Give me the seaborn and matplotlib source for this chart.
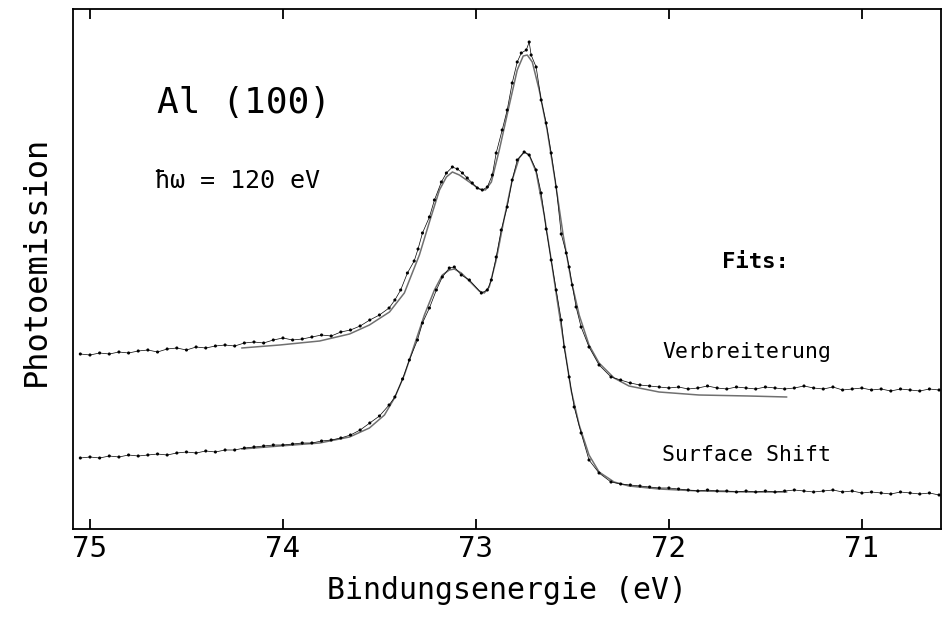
import matplotlib
matplotlib.use("Agg")
import matplotlib.pyplot as plt
import numpy as np
import pandas as pd
import seaborn as sns

# ---------------- data ----------------
# upper spectrum (measured points), binding energy in eV, intensity arb. units
upper_x = [75.05, 75.00, 74.95, 74.90, 74.85, 74.80, 74.75, 74.70, 74.65, 74.60,
           74.55, 74.50, 74.45, 74.40, 74.35, 74.30, 74.25, 74.20, 74.15, 74.10,
           74.05, 74.00, 73.95, 73.90, 73.85, 73.80, 73.75, 73.70, 73.65, 73.60,
           73.55, 73.50,
           73.45, 73.42, 73.39, 73.355, 73.32, 73.30, 73.277, 73.241, 73.215, 73.179,
           73.153, 73.122, 73.096, 73.070, 73.045, 73.019, 72.993, 72.967, 72.941, 72.915,
           72.895, 72.864, 72.838, 72.812, 72.786, 72.765, 72.739, 72.724, 72.714, 72.688,
           72.662, 72.636, 72.610, 72.584, 72.558, 72.532, 72.517, 72.501, 72.481, 72.455,
           72.414, 72.362,
           72.30, 72.25, 72.20, 72.15, 72.10, 72.05, 72.00, 71.95, 71.90, 71.85,
           71.80, 71.75, 71.70, 71.65, 71.60, 71.55, 71.50, 71.45, 71.40, 71.35,
           71.30, 71.25, 71.20, 71.15, 71.10, 71.05, 71.00, 70.95, 70.90, 70.85,
           70.80, 70.75, 70.70, 70.65, 70.60]
upper_y = [175, 174, 176, 175, 177, 176, 178, 179, 177, 180,
           181, 179, 182, 181, 183, 184, 183, 186, 187, 186,
           189, 191, 189, 190, 192, 194, 193, 197, 199, 203,
           209, 214,
           221, 229, 239, 256, 268, 280, 296, 312, 329, 347,
           356, 362, 360, 356, 351, 346, 341, 339, 342, 354,
           376, 399, 419, 446, 467, 476, 479, 487, 474, 462,
           429, 406, 376, 342, 295, 276, 262, 244, 222, 202,
           182, 164,
           152, 149, 146, 144, 143, 142, 141, 142, 140, 141,
           143, 141, 140, 142, 141, 140, 142, 141, 140, 141,
           143, 141, 140, 142, 139, 140, 141, 139, 140, 138,
           140, 139, 138, 140, 139]

# lower spectrum (measured points)
lower_x = [75.05, 75.00, 74.95, 74.90, 74.85, 74.80, 74.75, 74.70, 74.65, 74.60,
           74.55, 74.50, 74.45, 74.40, 74.35, 74.30, 74.25, 74.20, 74.15, 74.10,
           74.05, 74.00, 73.95, 73.90, 73.85, 73.80, 73.75, 73.70, 73.65, 73.60,
           73.55, 73.50, 73.45, 73.42, 73.38, 73.345, 73.303, 73.277, 73.241, 73.205,
           73.174, 73.138, 73.112, 73.076, 73.034, 72.972, 72.941, 72.920, 72.895, 72.869,
           72.838, 72.812, 72.786, 72.750, 72.724, 72.688, 72.662, 72.636, 72.610, 72.584,
           72.558, 72.543, 72.517, 72.491, 72.455, 72.414, 72.362,
           72.30, 72.25, 72.20, 72.15, 72.10, 72.05, 72.00, 71.95, 71.90, 71.85,
           71.80, 71.75, 71.70, 71.65, 71.60, 71.55, 71.50, 71.45, 71.40, 71.35,
           71.30, 71.25, 71.20, 71.15, 71.10, 71.05, 71.00, 70.95, 70.90, 70.85,
           70.80, 70.75, 70.70, 70.65, 70.60]
lower_y = [71, 72, 71, 73, 72, 74, 73, 74, 75, 74,
           76, 77, 76, 78, 77, 79, 79, 81, 82, 83,
           84, 84, 85, 86, 86, 88, 89, 91, 94, 99,
           106, 113, 124, 132, 150, 169, 189, 206, 221, 239,
           252, 261, 262, 254, 249, 236, 239, 249, 272, 299,
           322, 349, 369, 377, 374, 359, 336, 300, 269, 239,
           209, 182, 152, 122, 96, 69, 56,
           47, 45, 44, 43, 42, 41, 41, 40, 39, 38,
           39, 38, 38, 37, 38, 37, 38, 37, 38, 39,
           38, 37, 38, 39, 37, 38, 36, 37, 36, 35,
           37, 36, 35, 36, 34]

# fit curves
fit_upper_x = [74.214, 74.017, 73.810, 73.655, 73.552, 73.448, 73.371, 73.293, 73.241, 73.189,
               73.153, 73.122, 73.086, 73.034, 72.983, 72.951, 72.920, 72.879, 72.827, 72.786,
               72.755, 72.734, 72.708, 72.672, 72.631, 72.590, 72.548, 72.507, 72.465, 72.414,
               72.362, 72.284, 72.207, 72.051, 71.844, 71.586, 71.389]
fit_upper_y = [181, 184, 188, 195, 204, 217, 236, 274, 307, 339,
               352, 357, 354, 347, 340, 339, 347, 379, 424, 459,
               473, 474, 467, 439, 399, 349, 294, 249, 214, 184,
               166, 151, 143, 137, 134, 133, 132]
fit_lower_x = [74.214, 74.017, 73.810, 73.655, 73.552, 73.474, 73.422, 73.371, 73.319, 73.267,
               73.215, 73.174, 73.138, 73.112, 73.076, 73.024, 72.983, 72.957, 72.931, 72.895,
               72.853, 72.812, 72.776, 72.750, 72.724, 72.688, 72.646, 72.610, 72.579, 72.543,
               72.507, 72.465, 72.414, 72.362, 72.284, 72.207, 72.051, 71.844, 71.586, 71.389]
fit_lower_y = [80, 83, 86, 92, 101, 114, 131, 154, 184, 214,
               239, 254, 259, 260, 256, 246, 238, 236, 242, 269,
               311, 349, 371, 377, 374, 357, 314, 269, 229, 184,
               139, 104, 74, 57, 47, 43, 40, 38, 37, 37]

x_ticks = [75, 74, 73, 72, 71]
x_tick_labels = ["75", "74", "73", "72", "71"]

# ---------------- figure ----------------
sns.set_theme(style="white")
plt.rcParams["font.family"] = ["DejaVu Sans Mono", "DejaVu Sans"]
plt.rcParams["text.color"] = "black"
plt.rcParams["axes.labelcolor"] = "black"
plt.rcParams["xtick.color"] = "black"

W, H = 942, 617
fig = plt.figure(figsize=(W / 100, H / 100), dpi=100)
ax = fig.add_axes([73 / W, 1 - 529 / H, (941 - 73) / W, (529 - 9) / H])

data = pd.concat([
    pd.DataFrame({"E": upper_x, "I": upper_y, "set": "upper"}),
    pd.DataFrame({"E": lower_x, "I": lower_y, "set": "lower"}),
])
fits = pd.concat([
    pd.DataFrame({"E": fit_upper_x, "I": fit_upper_y, "set": "upper"}),
    pd.DataFrame({"E": fit_lower_x, "I": fit_lower_y, "set": "lower"}),
])

for name, grp in fits.groupby("set"):
    sns.lineplot(data=grp, x="E", y="I", sort=False, estimator=None, ax=ax,
                 color="#707070", lw=1.1, zorder=2)
for name, grp in data.groupby("set"):
    sns.lineplot(data=grp, x="E", y="I", sort=False, estimator=None, ax=ax,
                 color="black", lw=0.5, zorder=3)
    sns.scatterplot(data=grp, x="E", y="I", ax=ax, color="black", s=5,
                    edgecolor="none", zorder=4)

ax.set_xlim(75.088, 70.59)
ax.set_ylim(0, 520)
ax.set_xticks(x_ticks)
ax.set_xticklabels(x_tick_labels)
ax.set_yticks([])
ax.tick_params(axis="x", direction="in", top=True, bottom=True, length=7,
               width=1.3, labelsize=21, pad=4, colors="black")
for s in ax.spines.values():
    s.set_linewidth(1.3)
    s.set_color("black")
ax.set_xlabel("Bindungsenergie (eV)", fontsize=21.5, labelpad=10, color="black")
ax.set_ylabel("Photoemission", fontsize=23, labelpad=15, color="black")
ax.yaxis.label.set_y(0.515)

def px(x, y):
    return x / W, 1 - y / H

fig.text(*px(157, 113), "Al (100)", fontsize=26, ha="left", va="baseline")
fig.text(*px(155, 188), "\u0127\u03c9 = 120 eV", fontsize=18, ha="left", va="baseline")
fig.text(*px(722, 268), "Fits:", fontsize=16, fontweight="bold", ha="left", va="baseline")
fig.text(*px(662, 358), "Verbreiterung", fontsize=15.5, ha="left", va="baseline")
fig.text(*px(662, 461), "Surface Shift", fontsize=15.5, ha="left", va="baseline")

fig.savefig("out.png", dpi=100)
